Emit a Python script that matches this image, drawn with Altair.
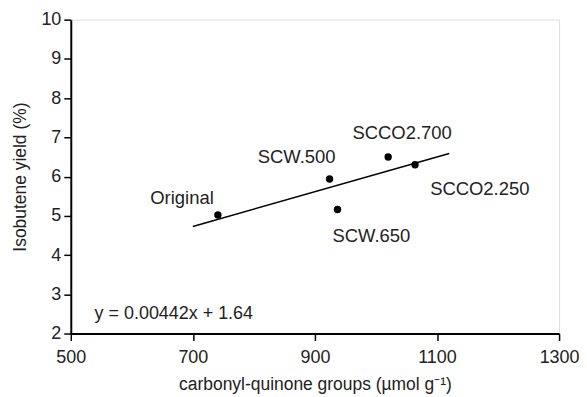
import altair as alt
import pandas as pd

samples = ["Original", "SCW.500", "SCW.650", "SCCO2.700", "SCCO2.250"]
carbonyl = [741, 924, 937, 1020, 1064]
yield_pct = [5.02, 5.94, 5.16, 6.50, 6.30]

fit_x = [700, 1120]
fit_y = [4.73, 6.59]

eq_text = ["y = 0.00442x + 1.64"]
eq_x = [539]
eq_y = [2.5]

pts = pd.DataFrame({"sample": samples, "x": carbonyl, "y": yield_pct})
fit = pd.DataFrame({"x": fit_x, "y": fit_y})
eq = pd.DataFrame({"t": eq_text, "x": eq_x, "y": eq_y})

FONT = "Liberation Sans"
xs = alt.Scale(domain=[500, 1300], nice=False)
ys = alt.Scale(domain=[2, 10], nice=False)

common = dict(grid=False, domainColor="black", domainWidth=2, tickColor="black", tickWidth=1.5,
              tickSize=7, labelFontSize=18, labelColor="#222", titleFontSize=17.5,
              titleFontWeight="normal", titleColor="#222", labelFont=FONT, titleFont=FONT,
              labelFlush=False, format="d")

xax = alt.Axis(values=[500, 700, 900, 1100, 1300], title="carbonyl-quinone groups (µmol g⁻¹)",
               labelPadding=8, titlePadding=9, **common)
yax = alt.Axis(values=list(range(2, 11)), title="Isobutene yield (%)",
               labelPadding=3, titlePadding=11, **common)

base_x = alt.X("x:Q", scale=xs, axis=xax)
base_y = alt.Y("y:Q", scale=ys, axis=yax)

line = alt.Chart(fit).mark_line(color="black", strokeWidth=1.5).encode(x=base_x, y=base_y)
dots = alt.Chart(pts).mark_point(filled=True, color="black", size=55, opacity=1).encode(x=base_x, y=base_y)

offsets = {
    "Original": (-36, -17),
    "SCW.500": (-33, -22),
    "SCW.650": (34, 27),
    "SCCO2.700": (14, -24),
    "SCCO2.250": (65, 24),
}
labels = []
for s, (dx, dy) in offsets.items():
    labels.append(
        alt.Chart(pts).transform_filter(alt.datum.sample == s)
        .mark_text(font=FONT, fontSize=18.5, color="#222", dx=dx, dy=dy)
        .encode(x=base_x, y=base_y, text="sample:N")
    )

eqt = alt.Chart(eq).mark_text(font=FONT, fontSize=18, color="#222", align="left", baseline="middle").encode(
    x=base_x, y=base_y, text="t:N")

chart = alt.layer(line, dots, *labels, eqt).properties(
    width=490, height=315,
    autosize=alt.AutoSizeParams(type="none"),
    padding={"left": 63, "top": 11, "right": 20, "bottom": 62},
).configure_view(stroke="black", strokeWidth=1.5).configure(background="white")

chart.save("out.html", embed_options={"renderer": "svg", "actions": False})
